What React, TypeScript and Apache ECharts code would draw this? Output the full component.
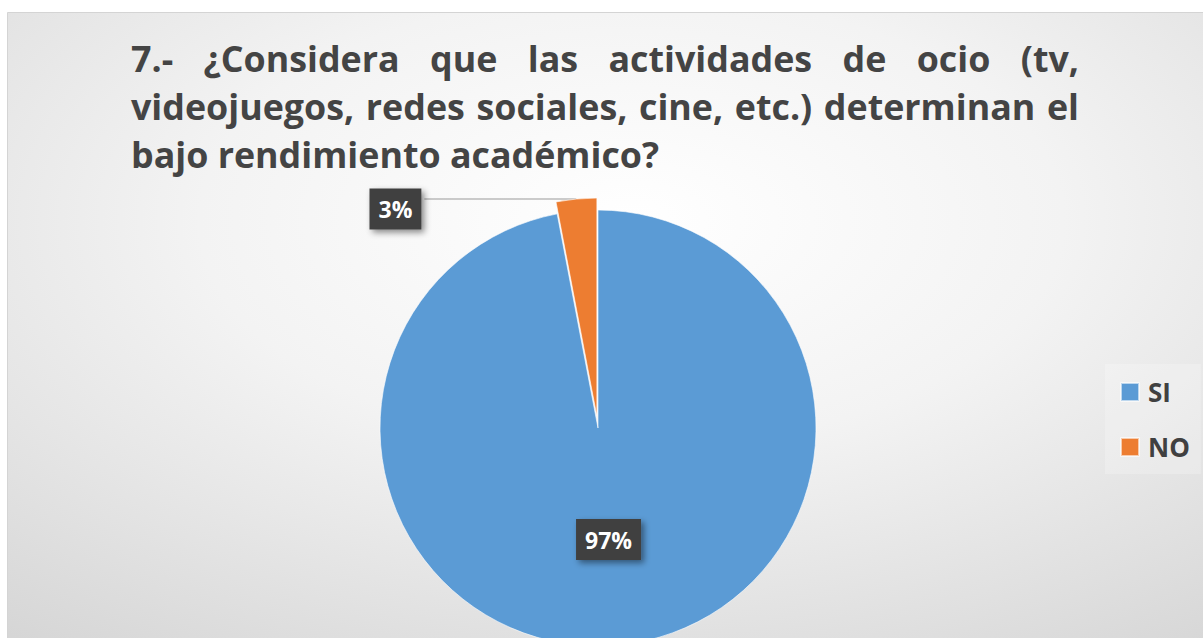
import React, { useEffect, useRef } from "react";
import * as echarts from "echarts";

const categories = ["SI", "NO"];
const values = [97, 3];
const colors = ["#5B9BD5", "#ED7D31"];
const titleLines = [
  "7.- ¿Considera que las actividades de ocio (tv,",
  "videojuegos, redes sociales, cine, etc.) determinan el",
  "bajo rendimiento académico?",
];
const justifyLine = [true, true, false];

const W = 1203;
const H = 638;
const FONT = "'Open Sans', 'Noto Sans', sans-serif";
const TITLE_SIZE = 35.8;
const TITLE_COLOR = "#444444";

function buildTitle(): any[] {
  const canvas = document.createElement("canvas");
  const ctx = canvas.getContext("2d") as CanvasRenderingContext2D;
  ctx.font = `bold ${TITLE_SIZE}px ${FONT}`;
  const left = 131;
  const right = 1079;
  const firstBaseline = 71;
  const lineGap = 47.8;
  const spaceW = ctx.measureText(" ").width;
  const els: any[] = [];
  titleLines.forEach((line, li) => {
    const words = line.split(" ");
    const widths = words.map((w) => ctx.measureText(w).width);
    const total = widths.reduce((a, b) => a + b, 0);
    let gap = justifyLine[li] ? (right - left - total) / (words.length - 1) : spaceW;
    if (gap < spaceW * 0.8) gap = spaceW * 0.8;
    let x = left;
    const y = firstBaseline + li * lineGap - 13;
    words.forEach((w, wi) => {
      els.push({
        type: "text",
        x,
        y,
        z: 10,
        style: {
          text: w,
          fill: TITLE_COLOR,
          font: `bold ${TITLE_SIZE}px ${FONT}`,
          textAlign: "left",
          textVerticalAlign: "middle",
        },
      });
      x += widths[wi] + gap;
    });
  });
  return els;
}

export default function App() {
  const ref = useRef<HTMLDivElement>(null);
  useEffect(() => {
    document.body.style.margin = "0";
    if (!ref.current) return;
    const chart = echarts.init(ref.current, null, { renderer: "svg" });
    const labelBox = {
      backgroundColor: "#404040",
      color: "#ffffff",
      fontWeight: "bold",
      fontSize: 23,
      fontFamily: FONT,
      lineHeight: 25,
      padding: [8, 9, 8, 9],
      shadowColor: "rgba(0,0,0,0.45)",
      shadowBlur: 6,
      shadowOffsetX: 3,
      shadowOffsetY: 3,
      formatter: (p: any) => Math.round(p.percent) + "%",
    };
    const option: any = {
      animation: false,
      graphic: [
        {
          type: "rect",
          z: -10,
          shape: { x: 7.5, y: 12.5, width: 1200, height: 630 },
          style: {
            stroke: "#d4d4d4",
            lineWidth: 1,
            fill: new echarts.graphic.RadialGradient(0.52, 0.33, 1.2, [
              { offset: 0, color: "#ffffff" },
              { offset: 0.3, color: "#f3f3f3" },
              { offset: 1, color: "#c0c0c0" },
            ]),
          },
        },
        ...buildTitle(),
      ],
      legend: {
        orient: "vertical",
        left: 1105,
        top: 364,
        padding: [15, 11, 14, 15],
        backgroundColor: "rgba(255,255,255,0.22)",
        itemWidth: 18,
        itemHeight: 18,
        itemGap: 29,
        icon: "rect",
        data: categories,
        textStyle: {
          color: "#404040",
          fontSize: 26,
          fontWeight: "bold",
          fontFamily: FONT,
          padding: [0, 0, 0, 4],
        },
      },
      series: [
        {
          type: "pie",
          center: [598, 428],
          radius: 218,
          startAngle: 90,
          clockwise: true,
          selectedMode: "single",
          selectedOffset: 12,
          itemStyle: { borderColor: "rgba(255,255,255,0.6)", borderWidth: 1 },
          labelLine: {
            show: true,
            length: 0,
            length2: 152,
            smooth: false,
            lineStyle: { color: "#9a9a9a", width: 1.2 },
          },
          labelLayout: (p: any) => (p.dataIndex === 1 ? { dy: 10, dx: 2 } : {}),
          data: categories.map((c, i) => ({
            name: c,
            value: values[i],
            selected: i === 1,
            itemStyle: { color: colors[i] },
            label:
              i === 0
                ? { show: true, position: "inside", ...labelBox }
                : { show: true, position: "outside", ...labelBox },
            labelLine: { show: i === 1 },
          })),
        },
      ],
    };
    chart.setOption(option);
    return () => chart.dispose();
  }, []);
  return <div ref={ref} style={{ width: W, height: H }} />;
}
